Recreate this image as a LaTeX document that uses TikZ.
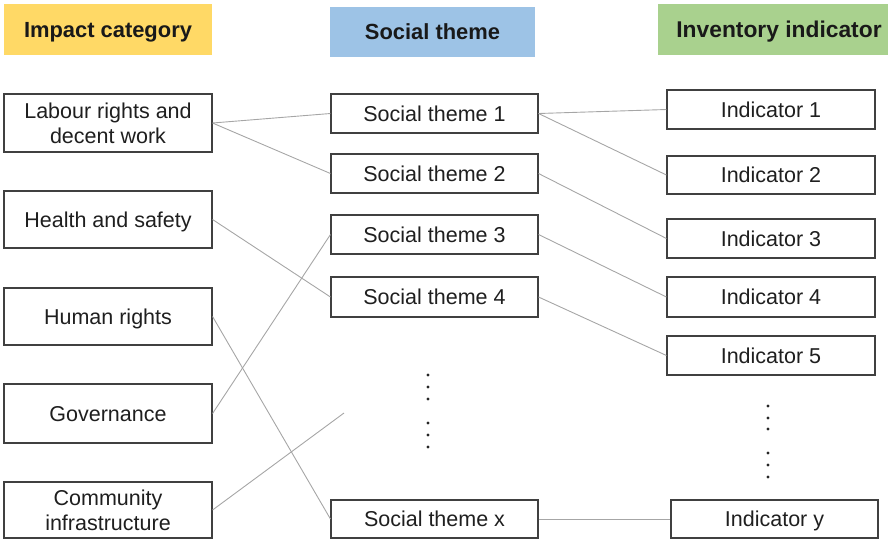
\documentclass[tikz,border=0pt]{standalone}
\usepackage{fontspec}
\setmainfont{Liberation Sans}
\definecolor{boxgray}{HTML}{404040}
\definecolor{linegray}{HTML}{A6A6A6}
\definecolor{headyellow}{HTML}{FFD966}
\definecolor{headblue}{HTML}{9DC3E6}
\definecolor{headgreen}{HTML}{A9D18E}
\begin{document}
\begin{tikzpicture}[x=1pt,y=-1pt,
  box/.style={draw=boxgray, line width=1.1pt, fill=white, inner sep=0pt,
    align=center, text=black!88, font=\fontsize{21.5}{25}\selectfont},
  oneline/.style={text height=15.5pt, text depth=0pt},
  colbox/.style={minimum width=208pt},
  head/.style={inner sep=0pt, text=black!90, text height=15.5pt, text depth=0pt,
    font=\bfseries\fontsize{21.9}{26}\selectfont},
  link/.style={draw=linegray, line width=0.9pt},
  dotmark/.style={fill=black!85}]
\useasboundingbox (0,0) rectangle (890,539);

% column headers
\node[head, fill=headyellow, minimum width=208pt, minimum height=51pt] (h1) at (108,29.5) {Impact category};
\node[head, fill=headblue,   minimum width=205pt, minimum height=50pt] (h2) at (432.5,32) {Social theme};
\node[head, fill=headgreen,  minimum width=230pt, minimum height=51pt,
      font=\bfseries\fontsize{22.8}{26}\selectfont] (h3) at (773,29.5) {\hspace*{12pt}Inventory indicator};

% impact categories
\node[box, colbox, minimum height=58pt] (lab) at (108,123)   {Labour rights and\\decent work};
\node[box, oneline, colbox, minimum height=57pt] (hs)  at (108,219.5) {Health and safety};
\node[box, oneline, colbox, minimum height=57pt] (hr)  at (108,316.5) {Human rights};
\node[box, oneline, colbox, minimum height=59pt] (gov) at (108,413.5) {Governance};
\node[box, colbox, minimum height=56pt] (com) at (108,510)   {Community\\infrastructure};

% social themes
\node[box, oneline, minimum width=207pt, minimum height=39pt] (st1) at (434.5,113.5) {Social theme 1};
\node[box, oneline, minimum width=207pt, minimum height=39pt] (st2) at (434.5,173.5) {Social theme 2};
\node[box, oneline, minimum width=207pt, minimum height=39pt] (st3) at (434.5,234.5) {Social theme 3};
\node[box, oneline, minimum width=207pt, minimum height=40pt] (st4) at (434.5,297)   {Social theme 4};
\node[box, oneline, minimum width=207pt, minimum height=38pt] (stx) at (434.5,519)   {Social theme x};

% inventory indicators
\node[box, oneline, colbox, minimum height=39pt] (in1) at (771,109.5) {Indicator 1};
\node[box, oneline, colbox, minimum height=38pt] (in2) at (771,175)   {Indicator 2};
\node[box, oneline, colbox, minimum height=39pt] (in3) at (771,238.5) {Indicator 3};
\node[box, oneline, colbox, minimum height=40pt] (in4) at (771,297)   {Indicator 4};
\node[box, oneline, colbox, minimum height=39pt] (in5) at (771,355.5) {Indicator 5};
\node[box, oneline, minimum width=207pt, minimum height=38pt] (iny) at (774.5,519) {Indicator y};

% open end of the community link
\coordinate (comEnd) at (344,413);

% links between categories and themes
\draw[link] (lab.east) -- (st1.west);
\draw[link] (lab.east) -- (st2.west);
\draw[link] (hs.east)  -- (st4.west);
\draw[link] (hr.east)  -- (stx.west);
\draw[link] (gov.east) -- (st3.west);
\draw[link] (com.east) -- (comEnd);

% links between themes and indicators
\draw[link] (st1.east) -- (in1.west);
\draw[link] (st1.east) -- (in2.west);
\draw[link] (st2.east) -- (in3.west);
\draw[link] (st3.east) -- (in4.west);
\draw[link] (st4.east) -- (in5.west);
\draw[link] (stx.east) -- (iny.west);

% ellipsis dots
\foreach \y in {375,387,399,423,435,447} \fill[dotmark] (428,\y) circle (1.7pt);
\foreach \y in {406,418,429,453,465,477} \fill[dotmark] (768,\y) circle (1.7pt);
\end{tikzpicture}
\end{document}
